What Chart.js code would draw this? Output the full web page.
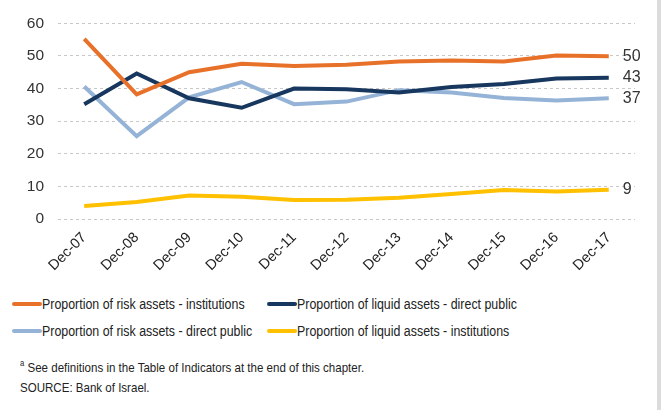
<!DOCTYPE html>
<html>
<head>
<meta charset="utf-8">
<script src="https://cdn.jsdelivr.net/npm/chart.js@4/dist/chart.umd.min.js"></script>
<style>
  html, body { margin: 0; padding: 0; background: #fff; }
  body { width: 661px; height: 410px; position: relative; overflow: hidden; font-family: "Liberation Sans", Arial, sans-serif; color: #222; }
  #wrap { position: absolute; left: 0; top: 0; width: 661px; height: 285px; }
  #edge { position: absolute; right: 0; top: 0; width: 4px; height: 410px; background: #dcdcdc; }
  .legend-item { position: absolute; font-size: 15.5px; line-height: 18px; white-space: nowrap; }
  .legend-item .swatch { display: inline-block; width: 30px; height: 4px; border-radius: 2px; vertical-align: middle; position: relative; top: -1px; }
  .legend-item .txt { display: inline-block; transform: scaleX(0.8); transform-origin: left center; }
  .note { position: absolute; left: 20px; font-size: 13.5px; white-space: nowrap; transform: scaleX(0.855); transform-origin: left center; }
  .note sup { font-size: 9px; }
</style>
</head>
<body>
<div id="wrap"><canvas id="chart"></canvas></div>
<div id="legend"></div>
<div class="note" style="top:358px"><sup>a</sup> See definitions in the Table of Indicators at the end of this chapter.</div>
<div class="note" style="top:380px">SOURCE: Bank of Israel.</div>
<div id="edge"></div>
<script>
  // Data
  const labels = ["Dec-07", "Dec-08", "Dec-09", "Dec-10", "Dec-11", "Dec-12", "Dec-13", "Dec-14", "Dec-15", "Dec-16", "Dec-17"];
  const riskInstitutions = [55.2, 38.2, 45.0, 47.6, 46.9, 47.3, 48.3, 48.6, 48.3, 50.1, 49.9];
  const liquidPublic = [35.2, 44.6, 37.0, 34.1, 40.0, 39.8, 38.8, 40.5, 41.4, 43.1, 43.3];
  const riskPublic = [40.6, 25.4, 37.3, 42.0, 35.2, 36.0, 39.5, 38.8, 37.1, 36.3, 37.0];
  const liquidInstitutions = [4.0, 5.2, 7.2, 6.8, 5.8, 5.9, 6.5, 7.7, 8.9, 8.4, 9.0];
  const yTicks = [0, 10, 20, 30, 40, 50, 60];

  const series = [
    { label: "Proportion of risk assets - institutions", data: riskInstitutions, color: "#E8712A" },
    { label: "Proportion of liquid assets - direct public", data: liquidPublic, color: "#17375E" },
    { label: "Proportion of risk assets - direct public", data: riskPublic, color: "#95B3D7" },
    { label: "Proportion of liquid assets - institutions", data: liquidInstitutions, color: "#FFC000" }
  ];

  // End-of-line value labels
  const endLabels = {
    id: "endLabels",
    afterDatasetsDraw(chart) {
      const ctx = chart.ctx;
      ctx.save();
      ctx.font = "16px 'Liberation Sans', Arial, sans-serif";
      ctx.fillStyle = "#333";
      ctx.textBaseline = "middle";
      chart.data.datasets.forEach((ds, i) => {
        const meta = chart.getDatasetMeta(i);
        const last = meta.data[meta.data.length - 1];
        ctx.fillText(String(Math.round(ds.data[ds.data.length - 1])), last.x + 14, last.y);
      });
      ctx.restore();
    }
  };

  new Chart(document.getElementById("chart"), {
    type: "line",
    data: {
      labels: labels,
      datasets: series.map(s => ({
        label: s.label,
        data: s.data,
        borderColor: s.color,
        backgroundColor: s.color,
        borderWidth: 4,
        pointRadius: 0,
        tension: 0
      }))
    },
    options: {
      responsive: true,
      maintainAspectRatio: false,
      animation: false,
      layout: { padding: { top: 19, right: 26, left: 0, bottom: 0 } },
      plugins: { legend: { display: false }, tooltip: { enabled: false } },
      scales: {
        x: {
          offset: true,
          grid: { display: false, drawTicks: false },
          border: { display: false },
          ticks: {
            minRotation: 45, maxRotation: 45, padding: 10,
            color: "#222", font: { family: "'Liberation Sans', Arial, sans-serif", size: 14.5 }
          },
          afterFit: axis => { axis.height = 66; }
        },
        y: {
          min: 0, max: 60,
          afterBuildTicks: axis => { axis.ticks = yTicks.map(v => ({ value: v })); },
          grid: { color: "#c8c8c8", lineWidth: 1, drawTicks: false },
          border: { display: false, dash: [3, 3] },
          ticks: {
            padding: 14,
            color: "#333", font: { family: "'Liberation Sans', Arial, sans-serif", size: 15.5 }
          },
          afterFit: axis => { axis.width = 58; }
        }
      }
    },
    plugins: [endLabels]
  });

  // HTML legend, two columns
  const legend = document.getElementById("legend");
  const slots = [[12, 295], [267, 295], [12, 322], [267, 322]];
  series.forEach((s, i) => {
    const item = document.createElement("div");
    item.className = "legend-item";
    item.style.left = slots[i][0] + "px";
    item.style.top = slots[i][1] + "px";
    item.innerHTML = `<span class="swatch" style="background:${s.color}"></span><span class="txt">${s.label}</span>`;
    legend.appendChild(item);
  });
</script>
</body>
</html>
